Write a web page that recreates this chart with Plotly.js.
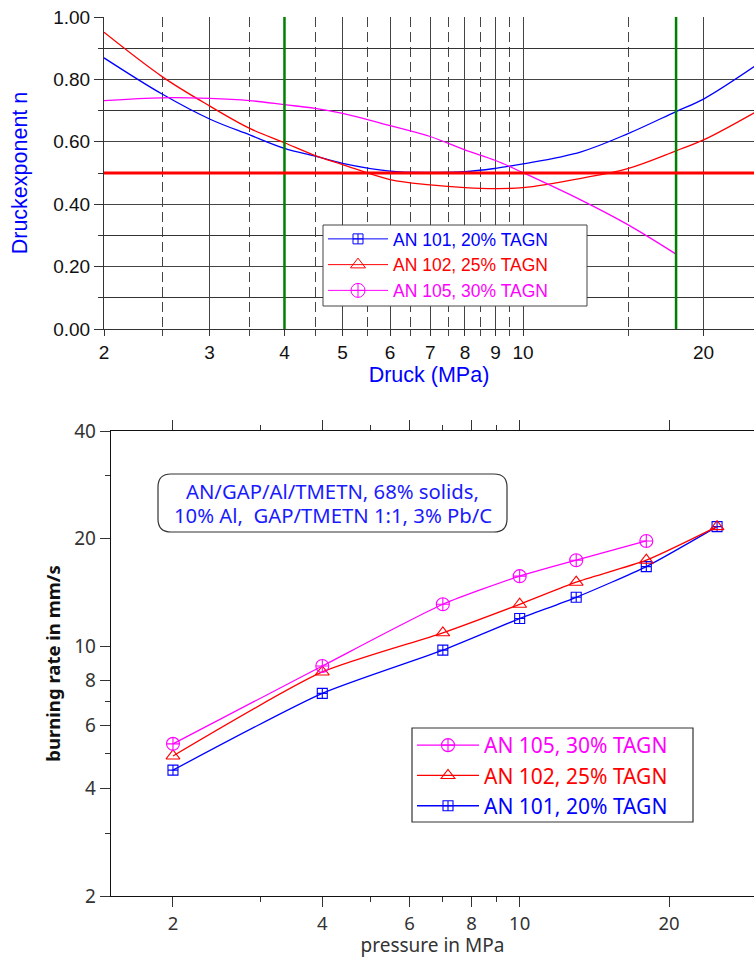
<!DOCTYPE html>
<html>
<head>
<meta charset="utf-8">
<script src="https://cdn.plot.ly/plotly-3.0.1.min.js"></script>
<style>html,body{margin:0;padding:0;background:#fff;}#chart{width:754px;height:958px;}</style>
</head>
<body>
<div id="chart"></div>
<script>
// ---------- top chart: pressure exponent n vs pressure ----------
const pTop = [2, 2.5, 3, 3.5, 4, 4.5, 5, 6, 7, 8, 9, 10, 12.5, 15, 18, 20, 24.3];
const nAN101 = [0.869, 0.753, 0.673, 0.622, 0.579, 0.554, 0.531, 0.506, 0.502, 0.504, 0.515, 0.529, 0.568, 0.627, 0.697, 0.737, 0.841];
const nAN102 = [0.951, 0.809, 0.715, 0.643, 0.597, 0.556, 0.527, 0.479, 0.462, 0.453, 0.450, 0.453, 0.483, 0.515, 0.571, 0.606, 0.693];
const pTop105 = [2, 2.5, 3, 3.5, 4, 4.5, 5, 6, 7, 8, 9, 10, 12.5, 15, 18];
const nAN105 = [0.732, 0.741, 0.739, 0.732, 0.719, 0.707, 0.691, 0.652, 0.617, 0.574, 0.540, 0.501, 0.413, 0.333, 0.240];
const topXTicks = [2, 3, 4, 5, 6, 7, 8, 9, 10, 20];
const topXMinor = [2.5, 3.5, 4.5, 5.5, 6.5, 7.5, 8.5, 9.5, 15];
const topYTicks = [0, 0.2, 0.4, 0.6, 0.8, 1.0];
const topYMinor = [0.1, 0.3, 0.5, 0.7, 0.9];
const greenLines = [4, 18];
const refExponent = 0.5;

// ---------- bottom chart: burning rate vs pressure ----------
const pressure = [2, 4, 7, 10, 13, 18, 25];
const rAN101 = [4.50, 7.38, 9.75, 11.95, 13.7, 16.7, 21.6];
const rAN102 = [4.93, 8.47, 10.9, 13.1, 15.1, 17.4, 21.6];
const pressure105 = [2, 4, 7, 10, 13, 18];
const rAN105 = [5.33, 8.80, 13.1, 15.7, 17.4, 19.7];
const botXTicks = [2, 4, 6, 8, 10, 20];
const botXMinor = [3, 5, 7, 9];
const botYTicks = [2, 4, 6, 8, 10, 20, 40];
const botYMinor = [3, 5, 7, 30];

const names = ['AN 101, 20% TAGN', 'AN 102, 25% TAGN', 'AN 105, 30% TAGN'];
const colors = ['#0000ff', '#ff0000', '#ff00ff'];
const symbols = ['square-cross-open', 'triangle-up-open', 'circle-cross-open'];
const noteLines = ['AN/GAP/Al/TMETN, 68% solids,', '10% Al,  GAP/TMETN 1:1, 3% Pb/C'];

const W = 754, H = 958;
const px = x => x / W;
const py = y => (H - y) / H;

const topFont = 'Liberation Sans, Arial, sans-serif';
const botFont = 'Noto Sans, Open Sans, sans-serif';
const colored = (t, c) => '<span style="color:' + c + '">' + t + '</span>';

const traces = [];
// top curves
[[pTop, nAN101], [pTop, nAN102], [pTop105, nAN105]].forEach((d, i) => {
  traces.push({
    x: d[0], y: d[1], xaxis: 'x', yaxis: 'y', type: 'scatter', mode: 'lines',
    line: {color: colors[i], width: 1.3, shape: 'spline', smoothing: 1},
    showlegend: false, hoverinfo: 'skip'
  });
});
// top legend entries
names.forEach((n, i) => {
  traces.push({
    x: [null], y: [null], xaxis: 'x', yaxis: 'y', type: 'scatter', mode: 'lines+markers',
    name: colored(n, colors[i]), legend: 'legend', legendrank: i + 1,
    line: {color: colors[i], width: 1},
    marker: {symbol: symbols[i], size: [10, 13, 14][i], color: colors[i], line: {width: 1, color: colors[i]}}
  });
});
// bottom data
[[pressure, rAN101], [pressure, rAN102], [pressure105, rAN105]].forEach((d, i) => {
  traces.push({
    x: d[0], y: d[1], xaxis: 'x2', yaxis: 'y2', type: 'scatter', mode: 'lines+markers',
    name: colored(names[i], colors[i]), legend: 'legend2', legendrank: 3 - i,
    line: {color: colors[i], width: 1.3, shape: 'spline', smoothing: 0.6},
    marker: {symbol: symbols[i], size: [10, 12, 13][i], color: colors[i], line: {width: 1.1, color: colors[i]}}
  });
});

// rounded box for the note
const bx0 = 158, bx1 = 507, by0 = 474, by1 = 532, r = 13;
const P = (x, y) => px(x).toFixed(5) + ',' + py(y).toFixed(5);
const boxPath = 'M' + P(bx0 + r, by0) + ' L' + P(bx1 - r, by0) + ' Q' + P(bx1, by0) + ' ' + P(bx1, by0 + r) +
  ' L' + P(bx1, by1 - r) + ' Q' + P(bx1, by1) + ' ' + P(bx1 - r, by1) +
  ' L' + P(bx0 + r, by1) + ' Q' + P(bx0, by1) + ' ' + P(bx0, by1 - r) +
  ' L' + P(bx0, by0 + r) + ' Q' + P(bx0, by0) + ' ' + P(bx0 + r, by0) + ' Z';

const shapes = [];
greenLines.forEach(g => shapes.push({
  type: 'line', xref: 'x', yref: 'y domain', x0: g, x1: g, y0: 0, y1: 1,
  line: {color: '#008000', width: 2.5}, layer: 'above'
}));
shapes.push({
  type: 'line', xref: 'x domain', yref: 'y', x0: 0, x1: 1, y0: refExponent, y1: refExponent,
  line: {color: '#ff0000', width: 3}, layer: 'above'
});
shapes.push({type: 'path', xref: 'paper', yref: 'paper', path: boxPath, line: {color: '#333', width: 1.2}});
// legend frames
shapes.push({type: 'rect', xref: 'paper', yref: 'paper', x0: px(323), x1: px(587), y0: py(306), y1: py(225),
  fillcolor: '#fff', line: {color: '#444', width: 1}, layer: 'above'});
shapes.push({type: 'rect', xref: 'paper', yref: 'paper', x0: px(412), x1: px(693), y0: py(822), y1: py(728),
  fillcolor: '#fff', line: {color: '#333', width: 1.2}, layer: 'above'});

const annotations = noteLines.map((t, i) => ({
  xref: 'paper', yref: 'paper', x: px((bx0 + bx1) / 2), y: py([491, 515][i]),
  xanchor: 'center', yanchor: 'middle', showarrow: false, text: t,
  font: {family: botFont, size: 20.3, color: '#1a1aff'}
}));

const layout = {
  width: W, height: H,
  margin: {l: 0, r: 0, t: 0, b: 0},
  paper_bgcolor: '#fff', plot_bgcolor: '#fff',
  showlegend: true,
  xaxis: {
    domain: [px(104), 1], anchor: 'y', type: 'log',
    range: [Math.log10(2), Math.log10(2) + 650 / 599.5],
    tickmode: 'array', tickvals: topXTicks, ticktext: topXTicks.map(String),
    ticks: 'outside', ticklen: 6, tickcolor: '#333',
    showgrid: true, gridcolor: '#444', gridwidth: 1,
    minor: {tickvals: topXMinor, ticks: 'outside', ticklen: 6, tickcolor: '#444', showgrid: true, gridcolor: '#444', griddash: '10px,5px', gridwidth: 1},
    showline: true, linecolor: '#333', linewidth: 1, zeroline: false,
    tickfont: {family: topFont, size: 19, color: '#111'},
    title: {text: 'Druck (MPa)', font: {family: topFont, size: 21.5, color: '#0000ff'}, standoff: 3}
  },
  yaxis: {
    domain: [py(329), py(17)], anchor: 'x', range: [0, 1],
    tickmode: 'array', tickvals: topYTicks, ticktext: topYTicks.map(v => v.toFixed(2)),
    ticks: 'outside', ticklen: 9, tickcolor: '#333',
    showgrid: true, gridcolor: '#444', gridwidth: 1,
    minor: {tickvals: topYMinor, ticks: 'outside', ticklen: 5, tickcolor: '#333', showgrid: true, gridcolor: '#333', gridwidth: 1},
    showline: true, linecolor: '#333', linewidth: 1, zeroline: false,
    tickfont: {family: topFont, size: 19, color: '#111'},
    title: {text: 'Druckexponent n', font: {family: topFont, size: 21.5, color: '#0000ff'}, standoff: 19}
  },
  xaxis2: {
    domain: [px(111), 1], anchor: 'y2', type: 'log',
    range: [Math.log10(1.5), Math.log10(2) + (754 - 173) / 496],
    tickmode: 'array', tickvals: botXTicks, ticktext: botXTicks.map(String),
    ticks: 'outside', ticklen: 10, tickcolor: '#333', tickwidth: 1,
    minor: {tickvals: botXMinor, ticks: 'outside', ticklen: 5, tickcolor: '#333'},
    showgrid: false, showline: true, linecolor: '#111', linewidth: 1.3, mirror: 'ticks', zeroline: false,
    tickfont: {family: botFont, size: 18.5, color: '#333'},
    title: {text: 'pressure in MPa', font: {family: botFont, size: 19, color: '#333'}, standoff: 8}
  },
  yaxis2: {
    domain: [py(896), py(431)], anchor: 'x2', type: 'log',
    range: [Math.log10(2), Math.log10(40)],
    tickmode: 'array', tickvals: botYTicks, ticktext: botYTicks.map(String),
    ticks: 'outside', ticklen: 10, tickcolor: '#333',
    minor: {tickvals: botYMinor, ticks: 'outside', ticklen: 5, tickcolor: '#333'},
    showgrid: false, showline: true, linecolor: '#111', linewidth: 1.3, zeroline: false,
    tickfont: {family: botFont, size: 19, color: '#333'},
    title: {text: '<b>burning rate in mm/s</b>', font: {family: botFont, size: 18.5, color: '#111'}, standoff: 8}
  },
  legend: {
    x: px(323), y: py(221), xanchor: 'left', yanchor: 'top',
    bgcolor: 'rgba(0,0,0,0)', borderwidth: 0,
    font: {family: topFont, size: 17.5},
    itemwidth: 60, traceorder: 'normal'
  },
  legend2: {
    x: px(412), y: py(725), xanchor: 'left', yanchor: 'top',
    bgcolor: 'rgba(0,0,0,0)', borderwidth: 0,
    font: {family: botFont, size: 21},
    itemwidth: 62, traceorder: 'normal'
  },
  shapes: shapes,
  annotations: annotations
};

Plotly.newPlot('chart', traces, layout, {staticPlot: true});
</script>
</body>
</html>
